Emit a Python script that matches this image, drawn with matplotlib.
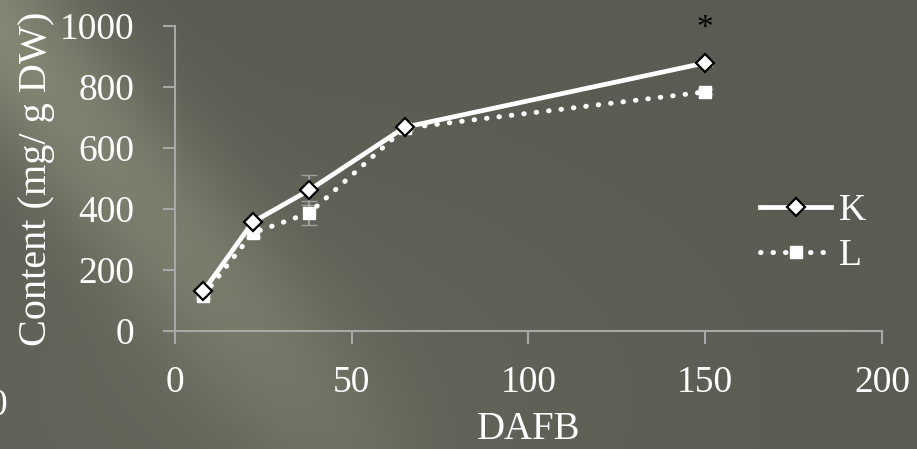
import matplotlib
matplotlib.use("Agg")
import matplotlib.pyplot as plt
import numpy as np

# data
dafb = [8, 22, 38, 65, 150]
k_vals = [130, 357, 462, 668, 879]
l_vals = [115, 321, 387, 665, 784]
k_err = [8, 15, 50, 10, 10]
l_err = [6, 12, 40, 8, 8]
x_ticks = [0, 50, 100, 150, 200]
y_ticks = [0, 200, 400, 600, 800, 1000]

plt.rcParams['font.family'] = ['Liberation Serif', 'DejaVu Serif']

W, H = 917, 449
fig = plt.figure(figsize=(W / 100, H / 100), dpi=100)

# background with a light diagonal streak
bg_ax = fig.add_axes([0, 0, 1, 1])
yy, xx = np.mgrid[0:H, 0:W]
d = (yy - 25 - 1.15 * xx) / np.sqrt(1 + 1.15 ** 2)
streak = np.exp(-(d / 80.0) ** 2) * np.clip(1 - xx / 480.0, 0, 1)
glow = np.exp(-(((xx - 220) / 420.0) ** 2 + ((yy - 400) / 240.0) ** 2))
base = np.array([90, 91, 82]) / 255.0
light = np.array([142, 145, 124]) / 255.0
mix = np.clip(0.8 * streak + 0.2 * glow, 0, 1)[..., None]
img = base * (1 - mix) + light * mix
bg_ax.imshow(img, extent=[0, 1, 0, 1], aspect="auto", origin="upper")
bg_ax.axis("off")

ax = fig.add_axes([0.1908, 0.263, 0.7710, 0.679])
ax.patch.set_alpha(0)

ax.errorbar(dafb, k_vals, yerr=k_err, fmt="none", ecolor="#a0a0a0",
            elinewidth=1.5, capsize=6, zorder=2)
ax.errorbar(dafb, l_vals, yerr=l_err, fmt="none", ecolor="#a0a0a0",
            elinewidth=1.5, capsize=6, zorder=2)

ax.plot(dafb, l_vals, color="white", lw=3.6, linestyle=(0, (0.1, 2.4)),
        dash_capstyle="round", marker="s", ms=9, mfc="white", mec="white",
        label="L", zorder=3)
ax.plot(dafb, k_vals, color="white", lw=3.4, marker="D", ms=9,
        mfc="white", mec="black", mew=1.6, label="K", zorder=4)

ax.text(150, 990, "*", ha="center", va="center", fontsize=24, color="black")

ax.set_xlim(0, 200)
ax.set_ylim(0, 1000)
ax.set_xticks(x_ticks)
ax.set_yticks(y_ticks)
for s in ["top", "right"]:
    ax.spines[s].set_visible(False)
for s in ["left", "bottom"]:
    ax.spines[s].set_color("#a8a8a8")
    ax.spines[s].set_linewidth(1.5)
ax.tick_params(colors="#a8a8a8", width=1.5, length=9, labelcolor="white",
               labelsize=27)
ax.tick_params(axis="x", pad=16)
ax.tick_params(axis="y", pad=20)

ax.set_xlabel("DAFB", color="white", fontsize=28, labelpad=8)
ax.set_ylabel("Content (mg/ g DW)", color="white", fontsize=29, labelpad=4)

handles, labels = ax.get_legend_handles_labels()
leg = ax.legend(handles[::-1], labels[::-1], loc="center left",
                bbox_to_anchor=(0.78, 0.32), frameon=False, fontsize=27,
                labelcolor="white", handlelength=1.9, handletextpad=0.2,
                labelspacing=0.3)

# fragment of a neighbouring chart at the left edge
fig.text(-0.012, 0.075, "0", color="white", fontsize=27)

fig.savefig("out.png", dpi=100)
